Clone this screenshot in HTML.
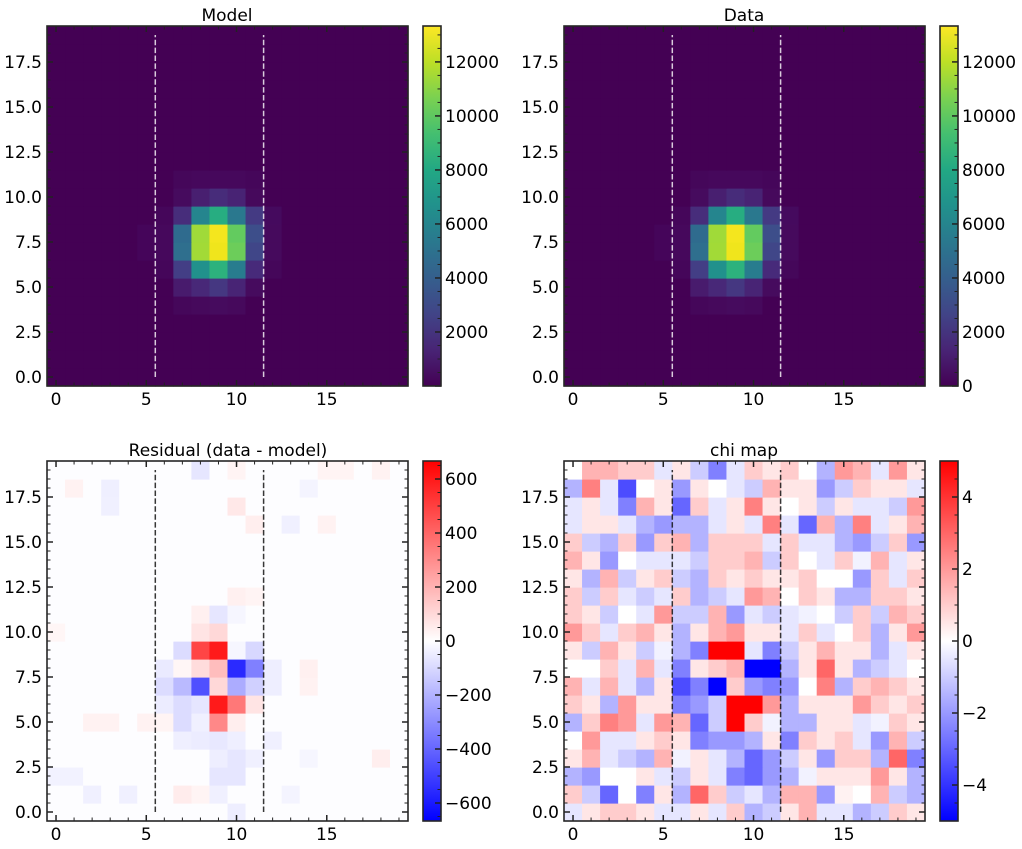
<!DOCTYPE html>
<html><head><meta charset="utf-8"><style>
html,body{margin:0;padding:0;background:#fff;width:1022px;height:849px;overflow:hidden}
svg text{font-family:"DejaVu Sans","Liberation Sans",sans-serif;font-size:17px;fill:#000}
</style></head><body>
<svg id="s" width="1022" height="849" xmlns="http://www.w3.org/2000/svg">
<defs>
<linearGradient id="vir" x1="0" y1="1" x2="0" y2="0">
<stop offset="0" stop-color="#440154"/><stop offset="0.1" stop-color="#482475"/><stop offset="0.2" stop-color="#414487"/><stop offset="0.3" stop-color="#355f8d"/><stop offset="0.4" stop-color="#2a788e"/><stop offset="0.5" stop-color="#21918c"/><stop offset="0.6" stop-color="#22a884"/><stop offset="0.7" stop-color="#44bf70"/><stop offset="0.8" stop-color="#7ad151"/><stop offset="0.9" stop-color="#bddf26"/><stop offset="1" stop-color="#fde725"/>
</linearGradient>
<linearGradient id="bwr" x1="0" y1="1" x2="0" y2="0">
<stop offset="0" stop-color="#0000ff"/><stop offset="0.5" stop-color="#ffffff"/><stop offset="1" stop-color="#ff0000"/>
</linearGradient>
</defs>
<text x="227" y="21" text-anchor="middle">Model</text>
<text x="744" y="21" text-anchor="middle">Data</text>
<text x="228" y="456" text-anchor="middle">Residual (data - model)</text>
<text x="744" y="456" text-anchor="middle">chi map</text>
</svg>
<script>
var NS="http://www.w3.org/2000/svg",S=document.getElementById("s");
function el(t,a,txt){var e=document.createElementNS(NS,t);for(var k in a)e.setAttribute(k,a[k]);if(txt!=null)e.textContent=txt;S.appendChild(e);return e;}
function bwr(t){t=Math.max(-1,Math.min(1,t));if(t>=0){var g=Math.round(255*(1-t));return "rgb(255,"+g+","+g+")";}var g2=Math.round(255*(1+t));return "rgb("+g2+","+g2+",255)";}
var BG="#440154";
var blob={"11":{7:"#45075a",8:"#46085c",9:"#46085c",10:"#46085c",11:"#45065a"},
"10":{7:"#460b5e",8:"#481f70",9:"#472c7a",10:"#482374",11:"#46095c"},
"9":{6:"#45065a",7:"#472d7b",8:"#25858e",9:"#27ad81",10:"#2a788e",11:"#443a83",12:"#450a5e"},
"8":{5:"#45055a",6:"#46085c",7:"#2f6b8e",8:"#a0da39",9:"#f4e61e",10:"#63cb5f",11:"#3d4e8a",12:"#460a5d"},
"7":{5:"#45055a",6:"#46085c",7:"#2f6f8e",8:"#a2da37",9:"#f0e51c",10:"#6ccd5a",11:"#404688",12:"#460a5d"},
"6":{6:"#45065a",7:"#433e85",8:"#21918c",9:"#2db27d",10:"#287c8e",11:"#472a7a",12:"#45075a"},
"5":{7:"#481b6d",8:"#482878",9:"#453781",10:"#482475",11:"#460b5e"},
"4":{7:"#45075a",8:"#46095c",9:"#460b5e",10:"#46095c"}};
function modelC(c,r){var o=blob[r];return (o&&o[c])||BG;}
var chi=[
[0,3,3,2,2,-1,1,-2,-5,-1,2,1,2,0,-3,4,3,-1,4,1],
[-3,5,-1,-7,0,1,-4,1,0,-1,-2,3,1,1,-4,-2,2,1,1,-1],
[-1,1,-1,-5,3,1,-6,2,-1,1,5,1,0,1,-2,1,-1,-1,-2,4],
[-1,1,1,-1,-3,-4,-3,-3,-1,1,-1,5,-1,-6,3,-3,5,-1,1,3],
[2,-2,-3,2,-4,2,3,-3,2,2,2,-1,2,-1,-1,-3,-4,-2,2,-4],
[3,1,-4,0,-1,-1,-1,-2,2,2,3,-2,2,0,-1,2,-0.5,3,-1,1],
[1,-3,3,-2,1,2,-2,-3,2,1,2,1,1,2,0,0,-4,2,-1,2],
[2,-2,2,-1,-2,-1,2,-3,-2,-1,4,3,0,2,1,-3,-3,2,2,1],
[2,1,-2,0,-1,4,-2,-2,3,-4,-1,-2,-1,-0.5,0,-2,2,-2,3,2],
[4,2,-1,2,3,1,-3,1,3,4,1,1,-1,2,-1,0,2,-3,1,4],
[1,-2,3,1,-2,-0.5,-3,-5,9,9,-1,-5,-2,1,3,1,1,-3,-1,1],
[0,0,2,-1,3,-1,-5,1,2,3,-9,-9,-3,1,6,1,-3,-2,-1,0],
[3,-1,3,-1,-3,1,-7,-5,-9,2,-4,-5,-4,0,5,-3,2,3,2,1],
[2,1,-3,4,1,1,-5,-4,-2,9,9,4,-3,1,1,1,4,2,1,2],
[-3,2,5,4,-1,4,3,-6,-2,9,2,-0.5,-3,-3,1,1,-1,-0.5,2,1],
[0,4,-1,-1,1,2,1,-5,-4,-4,-3,1,-5,2,1,2,-1,-4,3,-2],
[1,3,-1,-2,-3,3,-0.5,1,-1,-3,-6,-4,-2,1,-4,2,2,-3,6,-5],
[-3,-4,0,0,1,-1,-2,1,-1,-5,-6,-4,-3,-0.5,1,1,1,4,1,-3],
[2,-2,-6,0,-5,1,-3,6,2,-2,-1,-3,3,3,-4,0.5,0,3,-2,-3],
[-1,1,2,2,1,-1,-1,1,-1,2,-3,-2,1,3,-1,-1,-3,-2,2,1]];
function chiC(c,r){var v=chi[19-r][c];var t=Math.abs(v)>=9?Math.sign(v):v*0.1;return bwr(t);}
var res={"9":{7:"#dcdcff",8:"#ff4545",9:"#ff1a1a",10:"#f6f6ff",11:"#d8d8ff"},
"8":{6:"#eaeaff",7:"#fff6f6",8:"#ffdcdc",9:"#ffbdbd",10:"#2a2aff",11:"#8080ff",12:"#eeeeff",14:"#fff0f0"},
"7":{6:"#dcdcff",7:"#babaff",8:"#5050ff",9:"#ffd8d8",10:"#acacff",11:"#d0d0ff",12:"#eeeeff",14:"#fff2f2"},
"6":{6:"#ececff",7:"#dcdcff",8:"#e6e6ff",9:"#ff1a1a",10:"#ff7878",11:"#ffe4e4"},
"5":{6:"#fff4f4",7:"#dcdcff",8:"#f0f0ff",9:"#ff8888",10:"#ffeeee",2:"#fff2f2",3:"#fff2f2",5:"#fff2f2"},
"4":{7:"#efefff",8:"#ececff",9:"#e8e8ff",10:"#efefff",12:"#f0f0ff"},
"3":{9:"#eeeeff",10:"#e6e6ff",11:"#f0f0ff",18:"#ffeeee",14:"#f6f6ff"},
"2":{9:"#e6e6ff",10:"#e6e6ff",0:"#f2f2ff",1:"#f2f2ff"},
"1":{7:"#ffecec",8:"#fff4f4",9:"#f0f0ff",2:"#f0f0ff",4:"#f0f0ff",13:"#f4f4ff"},
"0":{10:"#eeeeff"},
"10":{8:"#ffe4e4",9:"#ffd8d8",0:"#fff6f6"},
"11":{8:"#fff0f0",9:"#e6e6ff",10:"#f6f6ff"},
"12":{10:"#fff0f0",11:"#fff4f4"},
"16":{11:"#ffeeee",13:"#f0f0ff",15:"#fff2f2"},
"17":{3:"#f0f0ff",10:"#ffe8e8"},
"18":{1:"#fff2f2",3:"#efefff",14:"#f4f4ff"},
"19":{8:"#e6e6ff",10:"#fff4f4",15:"#fff4f4",16:"#fff4f4",18:"#fff2f2"}};
function resC(c,r){var o=res[r];return (o&&o[c])||"#fdfdff";}

function fmt(v){return (v<0?"\u2212":"")+Math.abs(v);}
function panel(x0,y0,colF,lineCol,grad,cbMin,cbMax,cbMaj,cbMinor,skipZero){
 var w=361,h=360,cw=w/20,ch=h/20,x1=x0+w,y1=y0+h;
 for(var r=0;r<20;r++)for(var c=0;c<20;c++){
  el("rect",{x:(x0+c*cw).toFixed(2),y:(y1-(r+1)*ch).toFixed(2),width:(cw+0.6).toFixed(2),height:(ch+0.6).toFixed(2),fill:colF(c,r)});
 }
 [5.5,11.5].forEach(function(v){var px=x0+(v+0.5)*cw;
  el("line",{x1:px,x2:px,y1:y1-0.5*ch,y2:y1-19.5*ch,stroke:lineCol,"stroke-width":1.5,"stroke-dasharray":"5.5 2.4"});});
 var tk="#222";
 for(var i=0;i<20;i++){var px=x0+(i+0.5)*cw,maj=i%5==0,L=maj?6:3.5,sw=maj?1.5:1;
  el("line",{x1:px,x2:px,y1:y1,y2:y1-L,stroke:tk,"stroke-width":sw});
  el("line",{x1:px,x2:px,y1:y0,y2:y0+L,stroke:tk,"stroke-width":sw});
  if(maj)el("text",{x:px,y:y1+19,"text-anchor":"middle"},""+i);}
 for(var j=0;j<=38;j++){var v=j*0.5,py=y1-(v+0.5)*ch,maj=j%5==0,L=maj?6:3.5,sw=maj?1.5:1;
  el("line",{x1:x0,x2:x0+L,y1:py,y2:py,stroke:tk,"stroke-width":sw});
  el("line",{x1:x1,x2:x1-L,y1:py,y2:py,stroke:tk,"stroke-width":sw});
  if(maj)el("text",{x:x0-5,y:py+6,"text-anchor":"end"},v.toFixed(1));}
 el("rect",{x:x0,y:y0,width:w,height:h,fill:"none",stroke:"#262626","stroke-width":1.6});
 var cx0=x1+15,cx1=cx0+18;
 el("rect",{x:cx0,y:y0,width:18,height:h,fill:"url(#"+grad+")"});
 var yv=function(v){return y1-(v-cbMin)/(cbMax-cbMin)*h;};
 for(var v=Math.ceil(cbMin/cbMinor)*cbMinor;v<=cbMax;v+=cbMinor){var py=yv(v);
  var maj=Math.abs(Math.round(v/cbMaj)*cbMaj-v)<1e-6;
  el("line",{x1:cx1,x2:cx1-(maj?6:3.5),y1:py,y2:py,stroke:tk,"stroke-width":maj?1.5:1});
  if(maj&&!(skipZero&&Math.abs(v)<1e-6))el("text",{x:cx1+4,y:py+6},fmt(Math.round(v*1000)/1000));}
 el("rect",{x:cx0,y:y0,width:18,height:h,fill:"none",stroke:"#262626","stroke-width":1.6});
}
panel(47,26,modelC,"rgba(255,255,255,0.8)","vir",0,13330,2000,500,true);
panel(564,26,modelC,"rgba(255,255,255,0.8)","vir",0,13330,2000,500,false);
panel(47,461,resC,"rgba(20,20,20,0.85)","bwr",-666.7,666.7,200,50,false);
panel(564,461,chiC,"rgba(20,20,20,0.85)","bwr",-5,5,2,0.5,false);
</script>
</body></html>
